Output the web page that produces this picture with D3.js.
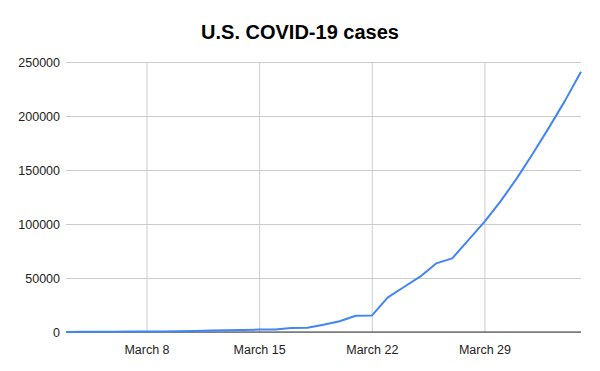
<!DOCTYPE html>
<html>
<head>
<meta charset="utf-8">
<script src="https://d3js.org/d3.v7.min.js"></script>
<style>
  body { margin: 0; background: #fff; }
  svg { display: block; font-family: Arial, "Liberation Sans", sans-serif; }
</style>
</head>
<body>
<svg id="chart" width="600" height="371"></svg>
<script>
// data
var days = ["2020-03-03","2020-03-04","2020-03-05","2020-03-06","2020-03-07","2020-03-08",
    "2020-03-09","2020-03-10","2020-03-11","2020-03-12","2020-03-13","2020-03-14","2020-03-15",
    "2020-03-16","2020-03-17","2020-03-18","2020-03-19","2020-03-20","2020-03-21","2020-03-22",
    "2020-03-23","2020-03-24","2020-03-25","2020-03-26","2020-03-27","2020-03-28","2020-03-29",
    "2020-03-30","2020-03-31","2020-04-01","2020-04-02","2020-04-03","2020-04-04"];
var cases = [100, 130, 200, 250, 350, 450,
    550, 750, 1000, 1300, 1600, 1900, 2200,
    2400, 3800, 3900, 6800, 9900, 15100, 15200,
    32000, 41700, 51200, 63500, 68200, 85000, 102000,
    121000, 142000, 165000, 189000, 214000, 241000];
var xTickDays = ["2020-03-08","2020-03-15","2020-03-22","2020-03-29"];
var xTickLabels = ["March 8","March 15","March 22","March 29"];
var yTicks = [0, 50000, 100000, 150000, 200000, 250000];

var parse = d3.timeParse("%Y-%m-%d");

var svg = d3.select("#chart"),
    margin = {top: 62, right: 19, bottom: 39, left: 66},
    width = +svg.attr("width") - margin.left - margin.right,
    height = +svg.attr("height") - margin.top - margin.bottom;

var points = days.map(function(d, i){ return {date: parse(d), value: cases[i]}; });

var x = d3.scaleTime()
    .domain(d3.extent(points, function(d){ return d.date; }))
    .range([0, width]);

var y = d3.scaleLinear()
    .domain([0, 250000])
    .range([height, 0]);

var g = svg.append("g")
    .attr("transform", "translate(" + margin.left + "," + margin.top + ")");

// horizontal grid + y labels
var yAxis = g.append("g")
    .call(d3.axisLeft(y).tickValues(yTicks).tickSize(-width).tickPadding(6).tickFormat(d3.format("d")));
yAxis.select(".domain").remove();
yAxis.selectAll("line").attr("stroke", "#cccccc");
yAxis.selectAll("text").attr("font-size", 12.5).attr("fill", "#222").attr("font-family", "Arial, 'Liberation Sans', sans-serif");

// vertical grid + x labels
var xAxis = g.append("g")
    .attr("transform", "translate(0," + height + ")")
    .call(d3.axisBottom(x)
        .tickValues(xTickDays.map(parse))
        .tickSize(-height)
        .tickPadding(13)
        .tickFormat(function(d, i){ return xTickLabels[i]; }));
xAxis.select(".domain").remove();
xAxis.selectAll("line").attr("stroke", "#cccccc");
xAxis.selectAll("text").attr("font-size", 12.5).attr("fill", "#222").attr("font-family", "Arial, 'Liberation Sans', sans-serif");

// baseline
g.append("line")
    .attr("x1", 0).attr("x2", width)
    .attr("y1", y(0)).attr("y2", y(0))
    .attr("stroke", "#333").attr("stroke-width", 1);

var line = d3.line()
    .x(function(d){ return x(d.date); })
    .y(function(d){ return y(d.value); });

g.append("path")
    .datum(points)
    .attr("fill", "none")
    .attr("stroke", "#4285f4")
    .attr("stroke-width", 2)
    .attr("stroke-linejoin", "round")
    .attr("d", line);

svg.append("text")
    .attr("x", 300)
    .attr("y", 39)
    .attr("text-anchor", "middle")
    .attr("font-size", 20)
    .attr("font-weight", "bold")
    .attr("fill", "#000")
    .text("U.S. COVID-19 cases");
</script>
</body>
</html>
